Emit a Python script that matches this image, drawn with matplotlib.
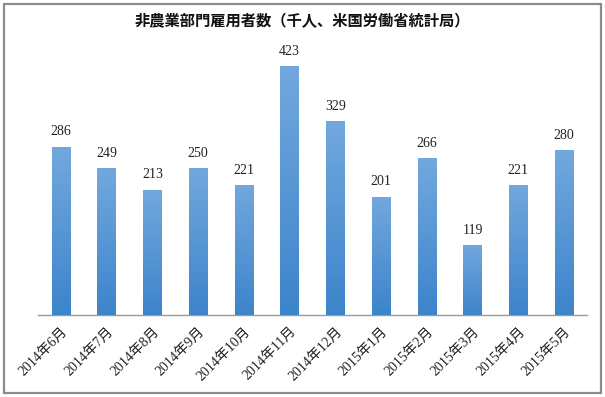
import matplotlib
matplotlib.use("Agg")
import matplotlib.pyplot as plt
import numpy as np
from matplotlib.colors import LinearSegmentedColormap
from matplotlib.patches import Rectangle

categories = ["2014年6月", "2014年7月", "2014年8月", "2014年9月", "2014年10月", "2014年11月",
              "2014年12月", "2015年1月", "2015年2月", "2015年3月", "2015年4月", "2015年5月"]
values = [286, 249, 213, 250, 221, 423, 329, 201, 266, 119, 221, 280]
title = "非農業部門雇用者数（千人、米国労働省統計局）"

W, H = 605, 397
fig = plt.figure(figsize=(W / 100, H / 100), dpi=100)
fig.patch.set_facecolor("white")

# outer border
fig.add_artist(Rectangle((4 / W, 4 / H), 597 / W, 389 / H, transform=fig.transFigure,
                         fill=False, edgecolor="#8c8c8c", linewidth=1.6))

ax = fig.add_axes([38 / W, (H - 315) / H, 549 / W, (315 - 49) / H])
x = np.arange(len(values))
bars = ax.bar(x, values, width=0.4, color="#5b97d6", zorder=2)

cmap = LinearSegmentedColormap.from_list("g", ["#3d84cb", "#72a8de"])
grad = np.linspace(0, 1, 256).reshape(-1, 1)
for b in bars:
    x0, y0 = b.get_x(), b.get_y()
    w, h = b.get_width(), b.get_height()
    im = ax.imshow(grad, cmap=cmap, origin="lower", aspect="auto",
                   extent=(x0, x0 + w, y0, y0 + h), zorder=3)
    im.set_clip_path(b)
ax.set_xlim(-0.5, len(values) - 0.5)
ax.set_ylim(0, 452)

serif = ["Liberation Serif", "Noto Sans CJK JP"]
for xi, v in zip(x, values):
    ax.text(xi, v + 14, str(v), ha="center", va="bottom", fontsize=10,
            family=serif, color="#222222")

for s in ["top", "right", "left"]:
    ax.spines[s].set_visible(False)
ax.spines["bottom"].set_color("#9a9a9a")
ax.spines["bottom"].set_linewidth(1.0)
ax.set_yticks([])
ax.set_xticks(x)
ax.set_xticklabels(categories, rotation=45, ha="right", rotation_mode="anchor",
                   fontsize=10, family=serif, color="#222222")
ax.tick_params(axis="x", length=0, pad=7)

fig.text(302 / W, 1 - 21 / H, title, ha="center", va="center", fontsize=11,
         fontweight="bold", family=["Noto Sans CJK JP", "DejaVu Sans"], color="#111111")

fig.savefig("out.png", dpi=100, facecolor="white")
